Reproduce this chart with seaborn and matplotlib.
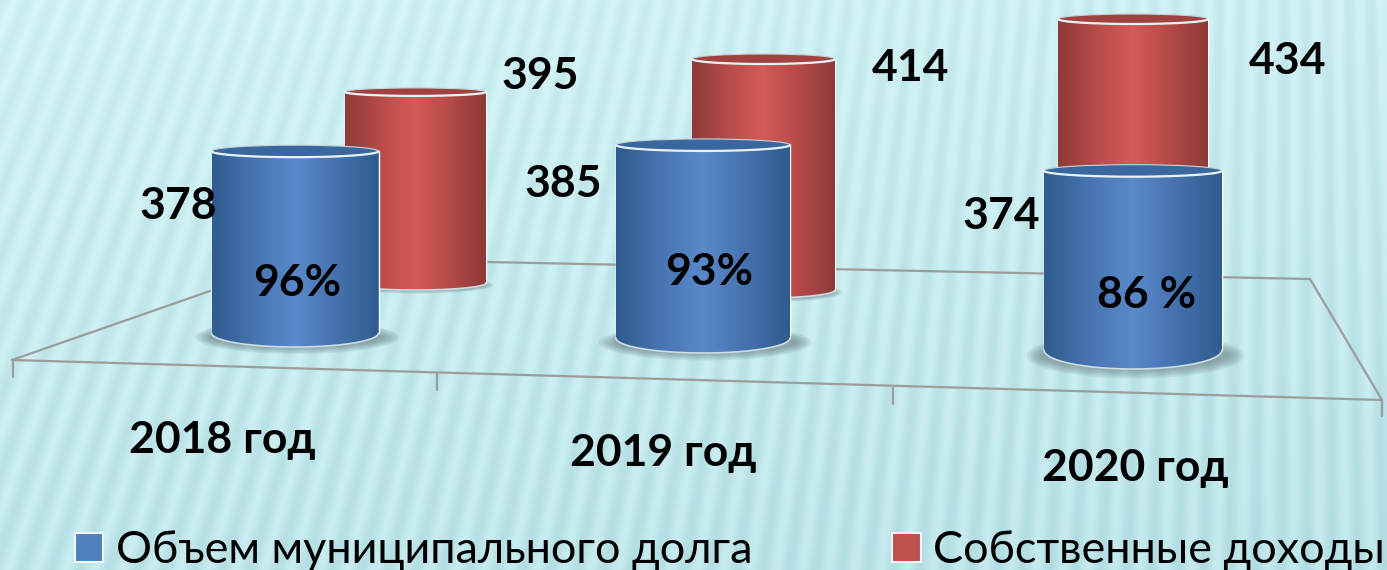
#!/usr/bin/env python3
# -*- coding: utf-8 -*-
import numpy as np
import pandas as pd
import matplotlib
matplotlib.use("Agg")
import matplotlib.pyplot as plt
import seaborn as sns
from matplotlib.colors import LinearSegmentedColormap, to_rgb
from matplotlib.patches import Ellipse, Patch, PathPatch
from matplotlib.path import Path

### Data
years = ["2018 год", "2019 год", "2020 год"]
debt = [378, 385, 374]
income = [395, 414, 434]
shares = ["96%", "93%", "86 %"]
series_names = ["Объем муниципального долга", "Собственные доходы"]

### Layout of the fake 3D scene, in pixels
W, H = 1387, 570
BASE_VALUE, PX_PER_UNIT = 304, 2.1
debt_depth = [1.17, 1.135, 1.22]
income_depth = [1.0, 1.0, 1.0]
debt_x = [295, 703, 1133]
debt_w = [167, 174, 178]
debt_floor = [333, 338, 350]
debt_ry = [(6, 14), (6, 15), (6, 19)]
income_x = [415.5, 763.5, 1133]
income_w = [141, 143, 150]
income_floor = [283, 290, 292]
income_ry = [(4, 7), (5, 8), (5, 8)]

sns.set_theme(style="white")
plt.rcParams["font.family"] = ["Lato", "Noto Sans", "DejaVu Sans"]

fig = plt.figure(figsize=(W / 100, H / 100), dpi=100)
ax = fig.add_axes([0, 0, 1, 1])

### Striped background fanning out from a point far above
yy, xx = np.mgrid[0:H, 0:W]
angle = np.arctan2(xx - 1300.0, yy + 3000.0)
stripes = 0.5 + 0.5 * np.sin(angle / 0.0072 * 2 * np.pi)
shade = np.clip(yy / H, 0, 1) * 0.75 + 0.25 * xx / W
light = np.array(to_rgb("#d8f7f9"))
dark = np.array(to_rgb("#b0dce1"))
mix = (0.05 + 0.45 * shade + 0.5 * stripes * (0.6 + 0.4 * shade))[..., None]
ax.imshow(light * (1 - mix) + dark * mix, extent=(0, W, H, 0), aspect="auto", zorder=0)

### Floor
floor_color = "#9c9c9c"
ax.plot([12, 210], [360, 291], color=floor_color, lw=1.6, zorder=1)
ax.plot([487, 1310], [262, 279], color=floor_color, lw=1.6, zorder=1)
ax.plot([1310, 1382], [279, 400], color=floor_color, lw=1.6, zorder=1)
ax.plot([12, 1382], [360, 400], color=floor_color, lw=1.6, zorder=1)
for tx, ty in [(13, 361), (437, 374), (893, 388), (1382, 400)]:
    ax.plot([tx, tx], [ty, ty + 16], color=floor_color, lw=1.6, zorder=1)


def draw_cylinders(values, depth, centers, widths, floors, radii, edge, mid, zorder, shadow):
    heights = [(v - BASE_VALUE) * PX_PER_UNIT * d for v, d in zip(values, depth)]
    df = pd.DataFrame({"x": centers, "h": heights})
    n_before = len(ax.patches)
    sns.barplot(data=df, x="x", y="h", native_scale=True, color=mid, saturation=1, ax=ax, zorder=zorder)
    bars = ax.patches[n_before:]
    e, m = np.array(to_rgb(edge)), np.array(to_rgb(mid))
    cmap = LinearSegmentedColormap.from_list("cyl", [e, 0.45 * e + 0.55 * m, m, 0.5 * e + 0.5 * m, e])
    for bar, cx, w, fl, (ry_top, ry_bot) in zip(bars, centers, widths, floors, radii):
        h = bar.get_height()
        x0, x1 = cx - w / 2, cx + w / 2
        top = fl - h
        bar.set_x(x0)
        bar.set_width(w)
        bar.set_y(fl)
        bar.set_height(-h)

        # soft shadow on the floor
        for k in range(6):
            ax.add_patch(Ellipse((cx + 2, fl + ry_bot * 0.3), w * (shadow - k * 0.035), ry_bot * (2.4 - k * 0.2),
                                 fc="#5f7478", ec="none", alpha=0.13, zorder=zorder - 0.5))

        # body outline
        t = np.linspace(0, np.pi, 60)
        low = np.column_stack([cx - w / 2 * np.cos(t), fl + ry_bot * np.sin(t)])
        high = np.column_stack([cx + w / 2 * np.cos(t), top - ry_top * np.sin(t)])
        outline = np.vstack([low, high, low[:1]])
        clip = PathPatch(Path(outline), transform=ax.transData, fc="none", ec="none")
        ax.add_patch(clip)
        grad = np.linspace(0, 1, 256)[None, :]
        im = ax.imshow(grad, cmap=cmap, vmin=0, vmax=1, aspect="auto",
                       extent=(x0, x1, fl + ry_bot + 1, top - ry_top - 1), zorder=zorder + 0.1)
        im.set_clip_path(clip)

        # top cap, light rim on its front edge and round the base
        ax.add_patch(Ellipse((cx, top), w, 2 * ry_top, fc=0.75 * e + 0.25 * m, ec="#c9d6da", lw=0.8, zorder=zorder + 0.2))
        ax.plot(high[:, 0], 2 * top - high[:, 1], color="#e8f1f4", lw=1.6, zorder=zorder + 0.3)
        ax.plot(low[:, 0], low[:, 1], color="#cfdce0", lw=1.2, zorder=zorder + 0.2)


### Bars: the far row first, the near row over it
draw_cylinders(income, income_depth, income_x, income_w, income_floor, income_ry, "#8e3a38", "#d65a58", 2, 1.08)
draw_cylinders(debt, debt_depth, debt_x, debt_w, debt_floor, debt_ry, "#2f5b8f", "#5a89cc", 3, 1.22)

### Labels
label_font = dict(fontsize=32, fontweight="bold", color="black", ha="center", va="center", zorder=6)
for val, pos in zip(debt, [(178, 206), (563, 184), (1001, 216)]):
    ax.text(pos[0], pos[1], str(val), **label_font)
for val, pos in zip(income, [(540, 76), (911, 68), (1288, 61)]):
    ax.text(pos[0], pos[1], str(val), **label_font)
for val, pos in zip(shares, [(297, 283), (709, 272), (1147, 295)]):
    ax.text(pos[0], pos[1], val, **label_font)
for val, pos in zip(years, [(222, 440), (663, 453), (1135, 468)]):
    ax.text(pos[0], pos[1], val, **label_font)

### Legend
handles = [Patch(fc="#4f81bd", ec="#eef6f8", lw=1.5, label=series_names[0]),
           Patch(fc="#c0504d", ec="#eef6f8", lw=1.5, label=series_names[1])]
ax.legend(handles=handles, ncol=2, loc="lower left", bbox_to_anchor=(75 / W, -0.002), frameon=False,
          fontsize=32.4, labelcolor="black", handlelength=0.63, handleheight=0.63, handletextpad=0.27,
          columnspacing=3.12, borderaxespad=0, borderpad=0)

ax.set_xlim(0, W)
ax.set_ylim(H, 0)
ax.axis("off")
fig.savefig("out.png", dpi=100)
